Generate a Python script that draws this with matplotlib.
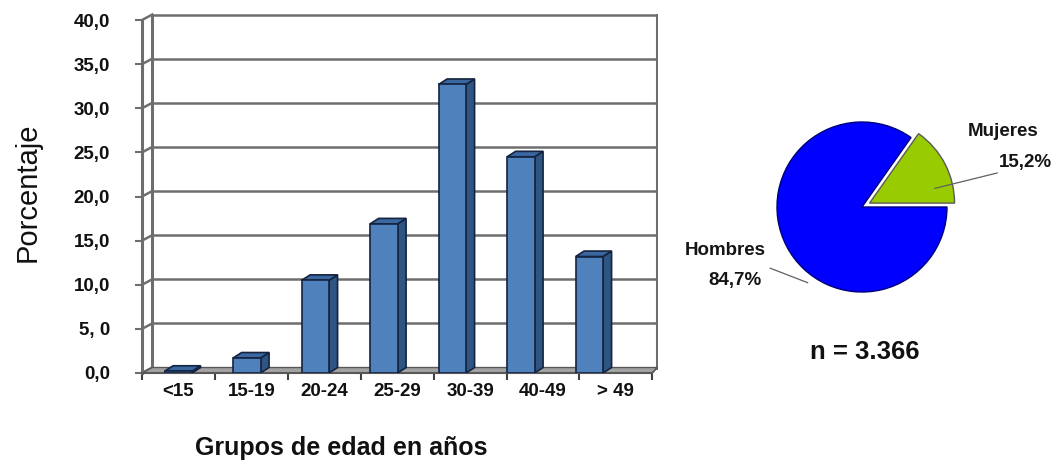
import matplotlib
matplotlib.use("Agg")
import matplotlib.pyplot as plt
from matplotlib.patches import Polygon, Rectangle
from matplotlib.lines import Line2D

# age distribution (%)
grupos = ["<15", "15-19", "20-24", "25-29", "30-39", "40-49", "> 49"]
porcentaje = [0.2, 1.7, 10.5, 16.9, 32.7, 24.5, 13.2]
y_ticks = [0, 5, 10, 15, 20, 25, 30, 35, 40]
y_ticklabels = ["0,0", "5, 0", "10,0", "15,0", "20,0", "25,0", "30,0", "35,0", "40,0"]

# sex distribution (%)
sexo = ["Mujeres", "Hombres"]
sexo_pct = [15.2, 84.7]
sexo_labels = ["15,2%", "84,7%"]
n_total = "3.366"

plt.rcParams["font.family"] = ["Liberation Sans", "DejaVu Sans"]

fig = plt.figure(figsize=(10.56, 4.66), dpi=100)
W, H = 1056, 466

# ---- pseudo 3d column chart ----
ax = fig.add_axes([142 / W, 93 / H, 515.8 / W, 361.8 / H])
x_front = (-0.53, 6.92)
x_back = (-0.38, 6.99)
dy = 0.62            # depth of the wall/floor in y units
bw, bdx, bdy = 0.40, 0.125, 0.62   # bar width and bar depth
grid_c = "#6e6e6e"
edge_c = "#14233f"

ax.set_xlim(-0.53, 7.0)
ax.set_ylim(0, 41)

# floor
floor = Polygon([(x_front[0], 0), (x_front[1], 0), (x_back[1], dy), (x_back[0], dy)],
                closed=True, facecolor="#a3a3a3", edgecolor="#585858", lw=1, zorder=1)
ax.add_patch(floor)

# back wall grid + connectors to the front axis
for v in y_ticks:
    ax.add_line(Line2D([x_back[0], x_back[1]], [v + dy, v + dy], color=grid_c, lw=1.8, zorder=0.5))
    ax.add_line(Line2D([x_front[0], x_back[0]], [v, v + dy], color=grid_c, lw=1.8, zorder=0.5))
for xb in x_back:
    ax.add_line(Line2D([xb, xb], [dy, y_ticks[-1] + dy], color=grid_c, lw=2.2, zorder=0.5))
ax.add_line(Line2D([x_front[1], x_back[1]], [0, dy], color="#585858", lw=1, zorder=1))

# bars: side, top, then front face
for i, v in enumerate(porcentaje):
    x0, x1 = i - bw / 2, i + bw / 2
    ax.add_patch(Polygon([(x1, 0), (x1 + bdx, bdy), (x1 + bdx, v + bdy), (x1, v)],
                         facecolor="#2f5583", edgecolor=edge_c, lw=1.2, zorder=3))
    ax.add_patch(Polygon([(x0, v), (x1, v), (x1 + bdx, v + bdy), (x0 + bdx, v + bdy)],
                         facecolor="#3b67a0", edgecolor=edge_c, lw=1.2, zorder=3))
    ax.add_patch(Rectangle((x0, 0), bw, v, facecolor="#4f81bd", edgecolor=edge_c,
                           lw=1.2, zorder=4))

for s in ["top", "right"]:
    ax.spines[s].set_visible(False)
ax.spines["left"].set_color(grid_c)
ax.spines["left"].set_linewidth(2.2)
ax.spines["left"].set_bounds(0, 40)
ax.spines["bottom"].set_color("#585858")
ax.spines["bottom"].set_linewidth(1.5)
ax.spines["bottom"].set_bounds(*x_front)
ax.patch.set_visible(False)

ax.set_yticks(y_ticks, y_ticklabels, fontweight="bold")
ax.tick_params(axis="y", length=5, width=1.5, color=grid_c, pad=18, labelsize=13.5,
               labelcolor="#111111")

step = (x_front[1] - x_front[0]) / len(grupos)
ax.set_xticks([x_front[0] + (i + 0.5) * step for i in range(len(grupos))], grupos,
              fontweight="bold")
ax.set_xticks([x_front[0] + k * step for k in range(len(grupos) + 1)], minor=True)
ax.tick_params(axis="x", which="major", length=0, pad=7, labelsize=13.5,
               labelcolor="#111111")
ax.tick_params(axis="x", which="minor", length=5, width=1.5, color="#404040")

fig.text(28 / W, 1 - 192 / H, "Porcentaje", rotation=90, ha="center", va="center",
         fontsize=21, color="#111111")
fig.text(341 / W, 1 - 448 / H, "Grupos de edad en años", ha="center", va="center",
         fontsize=18, fontweight="bold", color="#111111")

# ---- pie ----
r = 106.25
pax = fig.add_axes([(862 - r) / W, (H - 207 - r) / H, 2 * r / W, 2 * r / H])
wedges, _ = pax.pie(sexo_pct, colors=["#99cc00", "#0000ff"], explode=[0.1, 0],
                    startangle=0, counterclock=True)
wedges[0].set_edgecolor("#5a5a5a")
wedges[0].set_linewidth(1)
wedges[1].set_edgecolor("#00007a")
wedges[1].set_linewidth(1)

txt = dict(ha="center", va="center", fontsize=13.5, fontweight="bold", color="#151515")
pax.text(1.66, 0.89, sexo[0], **txt)
pax.text(1.92, 0.52, sexo_labels[0], **txt)
pax.text(-1.61, -0.51, sexo[1], **txt)
pax.text(-1.49, -0.87, sexo_labels[1], **txt)
pax.plot([0.86, 1.59], [0.22, 0.40], color="#606060", lw=0.9, clip_on=False)
pax.plot([-1.08, -0.64], [-0.72, -0.89], color="#606060", lw=0.9, clip_on=False)

fig.text(865 / W, 1 - 352 / H, f"n = {n_total}", ha="center", va="center",
         fontsize=18.5, fontweight="bold", color="#111111")

fig.savefig("out.png", dpi=100, facecolor="white")
